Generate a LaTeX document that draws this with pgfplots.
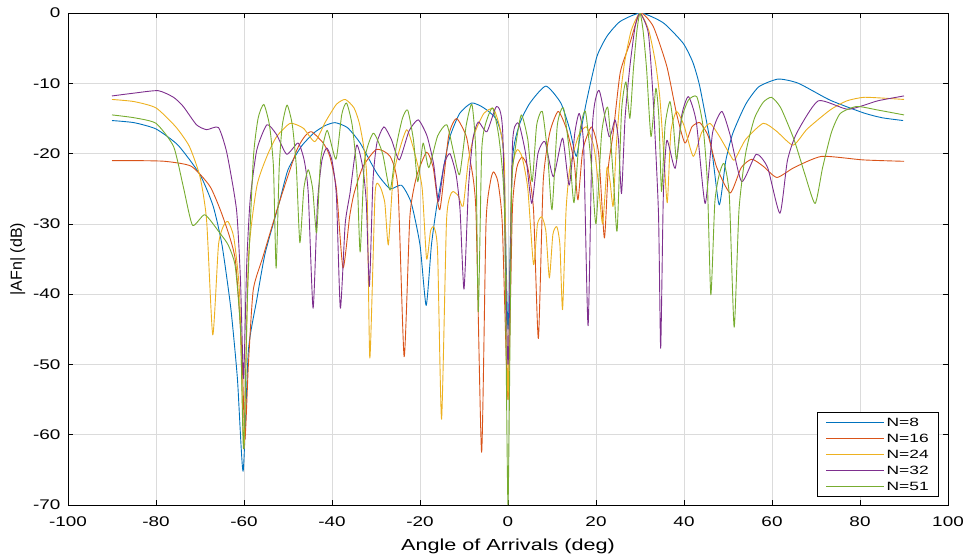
\documentclass[border=0pt]{standalone}
\usepackage{pgfplots}
\pgfplotsset{compat=1.18}
\usepackage{fontspec}
\setmainfont{Liberation Sans}
\newfontfamily\wide{Liberation Sans}[FakeStretch=1.35]
\newfontfamily\wider{Liberation Sans}[FakeStretch=1.45]
\definecolor{c1}{rgb}{0,0.447,0.741}
\definecolor{c2}{rgb}{0.85,0.325,0.098}
\definecolor{c3}{rgb}{0.929,0.694,0.125}
\definecolor{c4}{rgb}{0.494,0.184,0.556}
\definecolor{c5}{rgb}{0.466,0.674,0.188}
\begin{document}
\begin{tikzpicture}
\useasboundingbox (-68pt,-50pt) rectangle (901pt,505pt);
\begin{axis}[
  scale only axis, width=880pt, height=492pt,
  xmin=-100, xmax=100, ymin=-70, ymax=0,
  xtick={-100,-80,...,100}, ytick={-70,-60,...,0},
  tick align=inside, major tick length=5pt,
  tick style={black, line width=0.6pt},
  axis line style={black, line width=0.6pt},
  grid=major, grid style={black!14, line width=0.6pt},
  /pgf/number format/assume math mode=true,
  tick label style={font=\wide\fontsize{14}{16}\selectfont},
  xticklabel style={yshift=-8pt},
  yticklabel style={xshift=-4pt},
  xlabel={Angle of Arrivals (deg)}, ylabel={|AFn| (dB)},
  xlabel style={font=\wide\fontsize{16}{18}\selectfont, yshift=-6pt},
  ylabel style={font=\fontsize{16}{18}\selectfont, yshift=1pt},
  legend cell align=left,
  legend style={at={(rel axis cs:1,0)}, anchor=south east, xshift=-9pt, yshift=8pt,
    font=\wider\fontsize{12}{13}\selectfont, draw=black, line width=0.6pt,
    row sep=2.2pt, inner xsep=8pt, inner ysep=3pt},
  legend image code/.code={\draw[#1, line width=1.1pt] (0pt,0pt) -- (58pt,0pt);},
  every axis plot/.append style={line width=0.9pt, line join=round, smooth, tension=0.35},
]
% N=8
\addplot[c1] coordinates {
(-90,-15.3) (-85,-15.6) (-80,-16.5) (-75,-18.8) (-70,-23) (-67,-27.5) (-65,-33) (-63,-42) (-61.5,-52) (-60.2,-65.2) (-59,-48) (-57.1,-40.8) (-55.2,-34.2) (-52,-27) (-50,-22.3) (-47,-19) (-44,-17) (-41.5,-16) (-39.3,-15.6) (-36.5,-16.3) (-33.6,-18.5) (-29.8,-22.8) (-26.8,-25.0) (-24.2,-24.5) (-22,-27) (-20,-33) (-18.6,-41.6) (-17.4,-33) (-16.2,-27.5) (-14.5,-21.5) (-13.2,-17.6) (-11,-14.3) (-8.25,-12.8) (-5.5,-13.5) (-2.6,-15.2) (-1,-20) (0,-45) (1,-21) (2.7,-15.7) (5,-12.8) (8.6,-10.4) (12,-12.8) (14,-16.5) (15.5,-20.4) (16.5,-17) (17.9,-12.4) (20.2,-6.2) (22.5,-3.3) (25.5,-1.2) (30.2,0) (35.3,-1.4) (39.8,-4.3) (42,-7) (43.6,-10.5) (46.3,-19.5) (48,-27.3) (49.5,-21) (51.1,-17.1) (54,-13) (57,-10.5) (61.4,-9.4) (66,-10) (73.2,-12.4) (80.75,-14.2) (85,-14.9) (89.8,-15.3)
};
\addlegendentry{N=8}
% N=16
\addplot[c2] coordinates {
(-90,-21.0) (-85,-21.0) (-78,-21.1) (-72,-21.8) (-67.7,-24.7) (-64.8,-29) (-62,-35) (-60.5,-48) (-59.8,-60.7) (-59,-50) (-57.9,-39.4) (-55.7,-34.7) (-51.8,-26.6) (-48,-19.5) (-46,-17.4) (-44.6,-16.9) (-42,-18.5) (-40.5,-20.4) (-39,-25) (-37.5,-36.3) (-36,-29) (-35,-25.7) (-33,-21.9) (-29.9,-19.4) (-26.8,-20.4) (-25,-25) (-23.6,-48.9) (-22.3,-29) (-20.8,-23.3) (-18.5,-19.8) (-17,-22) (-15.5,-28) (-13.5,-17.5) (-11.7,-15.0) (-9.5,-17.5) (-8.6,-20.9) (-7.3,-28) (-6.0,-62.5) (-5,-30) (-4,-24) (-3.3,-22.6) (-2.3,-24) (-1.3,-30) (0,-55) (1,-28) (2,-22) (3.2,-20.5) (4.5,-22) (5.8,-28) (6.9,-46.3) (8,-24) (9.5,-17) (11.4,-14.0) (13.3,-16.5) (15,-21) (15.9,-26.6) (17,-19.5) (19,-16.2) (20.6,-20) (21.9,-32) (22.8,-22) (23.9,-17.1) (25.5,-8.5) (27.7,-4.3) (30,0) (33,-1.9) (36.1,-7.6) (38.3,-14.3) (40.2,-18.5) (41.8,-16.2) (43.6,-15.6) (45.5,-17.5) (47.4,-21.9) (50.5,-25.6) (53,-22) (55.4,-20.8) (58,-21.8) (61.1,-23.4) (65,-22) (71.3,-20.4) (80.7,-20.9) (90,-21.1)
};
\addlegendentry{N=16}
% N=24
\addplot[c3] coordinates {
(-90,-12.3) (-85,-12.6) (-80,-13.5) (-75.5,-16.2) (-72.4,-19.0) (-70,-23.3) (-68.5,-29.5) (-67.1,-45.8) (-65.8,-33) (-64.6,-30.2) (-63.6,-29.7) (-62.3,-32) (-61,-40) (-60,-62) (-59,-35) (-57.1,-24.7) (-54.8,-20.4) (-52.6,-17.6) (-49.5,-15.7) (-46.5,-16.4) (-43.9,-18.3) (-41.5,-15.5) (-39,-13) (-37,-12.3) (-35,-13.5) (-33.6,-16.2) (-32.1,-23.3) (-31.4,-49.1) (-30.2,-25.6) (-29.1,-24.7) (-28,-27) (-27.2,-33.0) (-26.2,-24) (-25.3,-20.9) (-23,-16.6) (-20.8,-20.9) (-19.5,-25) (-18.5,-35) (-17.6,-31) (-16.8,-30.5) (-16,-34) (-15.1,-57.8) (-14,-30) (-13.2,-26.1) (-12.5,-25.4) (-11.3,-26) (-10.2,-27.5) (-9,-21) (-7.5,-17) (-5.5,-14.3) (-3.3,-13.6) (-1.8,-16.5) (-0.8,-22) (0,-55) (0.8,-24) (2,-19.5) (3.2,-20.5) (4.5,-25) (5.8,-35.8) (6.7,-30) (7.7,-29) (8.6,-31) (9.4,-37.7) (10.2,-31.5) (11.1,-30.4) (11.8,-33) (12.4,-42.2) (13.2,-28) (14.1,-21.9) (16,-17.5) (17.8,-16.2) (19.5,-19) (20.5,-24) (21.5,-30) (22.5,-22) (23.2,-24) (23.9,-27.5) (24.6,-19) (25.5,-12) (26.5,-7) (28,-2.5) (30,0) (32,-2.5) (33.5,-7) (34.5,-12) (35.4,-20) (36.2,-27) (37,-17) (38.3,-14.0) (40,-16) (42.1,-20.4) (44,-17) (45.9,-15.7) (48,-17.5) (50.5,-20.2) (51.5,-20.9) (54,-18) (58,-15.7) (61,-16.8) (64.8,-18.8) (68,-16.5) (73.2,-13.8) (77,-12.5) (80.75,-12.0) (85,-12.1) (90,-12.3)
};
\addlegendentry{N=24}
% N=32
\addplot[c4] coordinates {
(-90,-11.8) (-85,-11.4) (-79.5,-11.05) (-76,-12) (-73.8,-13.3) (-70.8,-15.9) (-68.5,-16.6) (-65.8,-16.3) (-63.9,-19.9) (-61.7,-28) (-60.8,-38) (-60.1,-52) (-59.4,-36) (-58.6,-26.6) (-57.1,-19.5) (-54.8,-15.9) (-52.6,-17.3) (-50.3,-20.1) (-47.7,-18.5) (-46.3,-21) (-45.4,-25.6) (-44.3,-42) (-43.3,-27) (-42.3,-21) (-41.2,-19.2) (-40,-21) (-39,-26) (-38.1,-42) (-37,-30) (-35.9,-25.6) (-34.4,-18.8) (-33,-22) (-32.2,-27) (-31.5,-38.9) (-30.7,-24) (-29.8,-18.5) (-28.2,-16.2) (-26.5,-18) (-24.7,-20.9) (-22.5,-16.8) (-20.4,-15.2) (-18.4,-17.5) (-16.9,-21.5) (-15.8,-26.8) (-14.5,-21.5) (-13.2,-20.0) (-11.8,-23) (-10.9,-28) (-10,-39.3) (-9,-25) (-8,-18) (-6.75,-15.5) (-4.8,-16.9) (-2.6,-13.3) (-1.2,-17) (0,-50) (1,-19) (2,-15.7) (2.7,-16.2) (4,-20) (5.4,-27.1) (6.8,-20) (8.4,-18.3) (10.3,-23.3) (12.4,-17.8) (13.9,-24.5) (15.2,-17) (16.2,-14.3) (17.2,-19) (18.2,-44.5) (19.2,-16) (20.7,-11.0) (23,-17.6) (24.3,-15.2) (25.1,-18) (25.8,-25.7) (26.6,-15) (27.7,-7.6) (28.9,-1.9) (30,0) (31.9,-2.9) (33,-12.4) (34.2,-28.5) (34.7,-47.7) (35.3,-26) (36.1,-18.1) (38,-22.1) (39.5,-14.5) (41,-11.9) (42.8,-15.5) (44.8,-27.1) (46.5,-17) (48.6,-14.0) (50.5,-17.4) (53.1,-24) (56.4,-20.1) (59,-22) (61.8,-28.5) (63.5,-21) (65.6,-17.1) (70.5,-12.5) (77.3,-13.7) (84,-12.5) (90,-11.8)
};
\addlegendentry{N=32}
% N=51
\addplot[c5] coordinates {
(-90,-14.5) (-85,-14.9) (-80,-15.7) (-76,-19.0) (-73.8,-24.7) (-71.7,-30.2) (-68.9,-28.7) (-65.5,-31.3) (-63.6,-33) (-62,-36) (-60.8,-45) (-60.1,-62) (-59.2,-40) (-57.9,-20.9) (-56.8,-15) (-55.5,-13.0) (-54.2,-16) (-53.3,-22) (-52.7,-36.3) (-52,-22) (-51.3,-16) (-50.2,-13.1) (-49,-16) (-48.1,-22) (-47.3,-32.7) (-46.4,-25) (-45.4,-22.3) (-44.4,-25) (-43.5,-31.3) (-42.6,-21) (-41.1,-16.7) (-39.1,-20.8) (-37.8,-14.5) (-36.7,-12.8) (-35.4,-16) (-34.3,-23) (-33.6,-34.0) (-32.6,-21) (-30.6,-17.1) (-28.5,-20) (-26.8,-25.2) (-25.4,-19) (-24,-15) (-22.8,-13.8) (-21.5,-18) (-20.5,-24) (-19.3,-18.5) (-18,-22) (-16,-17.5) (-13.9,-15.9) (-12.3,-20) (-11,-23) (-9.5,-16) (-8.2,-13) (-7.3,-20) (-6.75,-42.5) (-6,-20) (-5.2,-16) (-3.5,-13.5) (-2,-18) (-0.8,-28) (0,-70) (0.8,-26) (1.5,-20) (3,-14.5) (4.5,-18) (5.5,-24) (6.5,-16) (7.8,-14) (9,-20) (10,-28) (11.2,-16) (12.6,-13.5) (14,-20) (15,-27) (16.3,-17) (17.6,-14) (19,-22) (20,-30) (21.3,-17) (22.7,-13.5) (24,-24) (24.8,-31) (25.8,-14) (26.8,-9.8) (27.7,-15) (28.5,-8) (29.3,-2.5) (30,0) (30.7,-2.5) (31.5,-8) (32.5,-17.6) (33.6,-10.7) (34.3,-15) (34.9,-25.4) (35.7,-16) (36.8,-12.6) (37.6,-16) (38.3,-20.9) (39.5,-15) (41,-12.4) (42.9,-11.9) (44.3,-16) (45.3,-24) (46.1,-40.1) (47,-27) (48,-23) (49.1,-21.4) (50.3,-26) (51.4,-44.7) (52.5,-28) (54,-20) (56,-15) (58,-12.7) (59.9,-12.0) (62,-13.5) (65,-18) (67.5,-23) (69.8,-27.1) (71.5,-22) (73.5,-17) (75.5,-14.3) (79.25,-13.3) (84,-13.8) (90,-14.5)
};
\addlegendentry{N=51}
\end{axis}
\end{tikzpicture}
\end{document}
